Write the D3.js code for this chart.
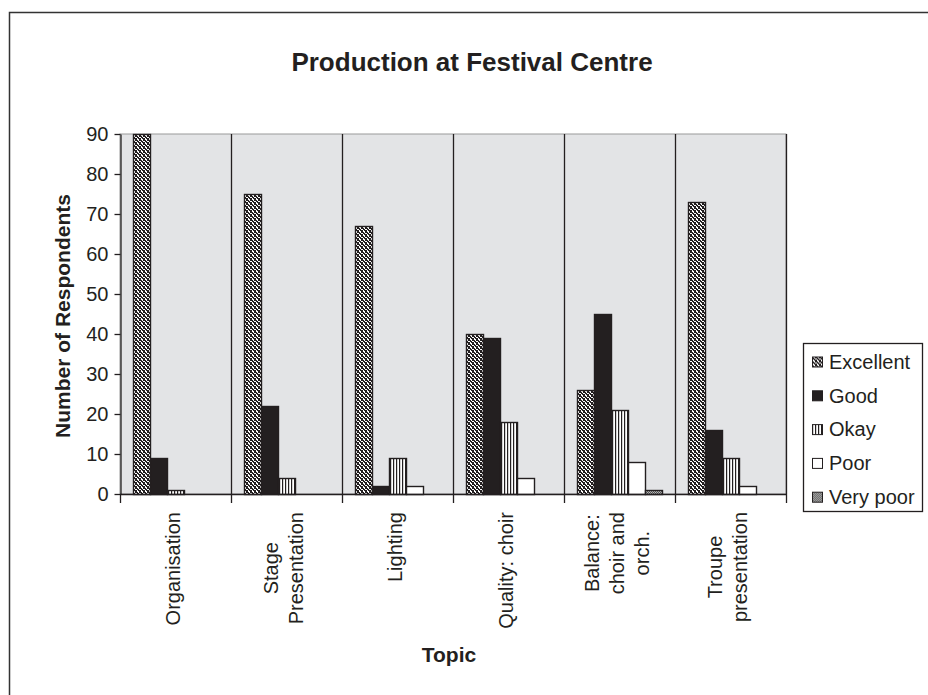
<!DOCTYPE html>
<html>
<head>
<meta charset="utf-8">
<script src="https://cdn.jsdelivr.net/npm/d3@7/dist/d3.min.js"></script>
<style>
  html, body { margin: 0; padding: 0; background: #fff; }
  svg { display: block; font-family: "Liberation Sans", Arial, sans-serif; }
</style>
</head>
<body>
<svg id="chart" width="928" height="695"></svg>
<script>
// Survey responses per production topic
const categories = ["Organisation", "Stage\nPresentation", "Lighting", "Quality: choir", "Balance:\nchoir and\norch.", "Troupe\npresentation"];
const seriesNames = ["Excellent", "Good", "Okay", "Poor", "Very poor"];
const excellent = [90, 75, 67, 40, 26, 73];
const good      = [9, 22, 2, 39, 45, 16];
const okay      = [1, 4, 9, 18, 21, 9];
const poor      = [0, 0, 2, 4, 8, 2];
const veryPoor  = [0, 0, 0, 0, 1, 0];
const yTicks = [0, 10, 20, 30, 40, 50, 60, 70, 80, 90];

const seriesValues = [excellent, good, okay, poor, veryPoor];

const svg = d3.select("#chart");
const W = 928, H = 695;
const plot = { left: 120, right: 786, top: 134, bottom: 494 };
const ink = "#231f20";

// Fill patterns
const defs = svg.append("defs");
const pExc = defs.append("pattern").attr("id", "p-exc").attr("patternUnits", "userSpaceOnUse")
  .attr("width", 4).attr("height", 4);
pExc.append("rect").attr("width", 4).attr("height", 4).attr("fill", "#fff");
// zigzag texture
[[0,0],[1,0],[3,0],[1,1],[2,1],[2,2],[3,2],[0,2],[3,3],[0,3]].forEach(([px, py]) =>
  pExc.append("rect").attr("x", px).attr("y", py).attr("width", 1).attr("height", 1).attr("fill", ink));

const pOkay = defs.append("pattern").attr("id", "p-okay").attr("patternUnits", "userSpaceOnUse")
  .attr("width", 3).attr("height", 3);
pOkay.append("rect").attr("width", 3).attr("height", 3).attr("fill", "#fff");
pOkay.append("rect").attr("x", 0).attr("width", 1.2).attr("height", 3).attr("fill", ink);

const pVp = defs.append("pattern").attr("id", "p-vp").attr("patternUnits", "userSpaceOnUse")
  .attr("width", 2).attr("height", 2);
pVp.append("rect").attr("width", 2).attr("height", 2).attr("fill", "#b8b8b8");
pVp.append("rect").attr("width", 1).attr("height", 1).attr("fill", "#555");
pVp.append("rect").attr("x", 1).attr("y", 1).attr("width", 1).attr("height", 1).attr("fill", "#555");

const fills = ["url(#p-exc)", ink, "url(#p-okay)", "#ffffff", "url(#p-vp)"];

// Outer chart frame
svg.append("rect").attr("x", 9.5).attr("y", 12.5).attr("width", W + 20).attr("height", H + 20)
  .attr("fill", "#fff").attr("stroke", "#333").attr("stroke-width", 1.5);

// Scales
const x = d3.scaleBand().domain(d3.range(categories.length)).range([plot.left, plot.right]).padding(0);
const gap = 26;
const xs = d3.scaleBand().domain(d3.range(seriesNames.length)).range([gap / 2, x.bandwidth() - gap / 2]).padding(0);
const y = d3.scaleLinear().domain([0, 90]).range([plot.bottom, plot.top]);

// Plot background
svg.append("rect").attr("x", plot.left).attr("y", plot.top)
  .attr("width", plot.right - plot.left).attr("height", plot.bottom - plot.top)
  .attr("fill", "#e3e4e6").attr("stroke", "#999").attr("stroke-width", 1);

// Category dividers
svg.append("g").selectAll("line").data(d3.range(1, categories.length + 1)).join("line")
  .attr("x1", i => x(i - 1) + x.bandwidth() + 0.5).attr("x2", i => x(i - 1) + x.bandwidth() + 0.5)
  .attr("y1", plot.top).attr("y2", plot.bottom)
  .attr("stroke", ink).attr("stroke-width", 1.3);

// Bars
const groups = svg.append("g").selectAll("g").data(categories).join("g")
  .attr("transform", (d, i) => `translate(${x(i)},0)`);
groups.selectAll("rect")
  .data((d, i) => seriesValues.map((vals, s) => ({ s, v: vals[i] })).filter(d => d.v > 0))
  .join("rect")
  .attr("x", d => xs(d.s) + 0.5)
  .attr("y", d => y(d.v) + 0.5)
  .attr("width", xs.bandwidth())
  .attr("height", d => y(0) - y(d.v))
  .attr("fill", d => fills[d.s])
  .attr("stroke", ink).attr("stroke-width", 1.4);

// Y axis
const yAxis = svg.append("g").attr("transform", `translate(${plot.left + 0.5},0)`)
  .call(d3.axisLeft(y).tickValues(yTicks).tickSize(6).tickSizeOuter(0).tickPadding(6));
yAxis.select(".domain").attr("stroke", ink).attr("stroke-width", 1.3);
yAxis.selectAll(".tick line").attr("stroke", ink).attr("stroke-width", 1.3);
yAxis.selectAll(".tick text").attr("font-size", 20).attr("fill", ink)
  .attr("font-family", "Liberation Sans, Arial, sans-serif");

// X axis line and boundary ticks
svg.append("line").attr("x1", plot.left).attr("x2", plot.right + 1)
  .attr("y1", plot.bottom + 0.5).attr("y2", plot.bottom + 0.5)
  .attr("stroke", ink).attr("stroke-width", 1.3);
svg.append("g").selectAll("line").data(d3.range(categories.length + 1)).join("line")
  .attr("x1", i => (i < categories.length ? x(i) : x(i - 1) + x.bandwidth()) + 0.5)
  .attr("x2", i => (i < categories.length ? x(i) : x(i - 1) + x.bandwidth()) + 0.5)
  .attr("y1", plot.bottom).attr("y2", plot.bottom + 9)
  .attr("stroke", ink).attr("stroke-width", 1.3);

// Rotated category labels, centred lines
const labelTop = 512, lineGap = 25;
categories.forEach((c, i) => {
  const lines = c.split("\n");
  const cx = x(i) + x.bandwidth() / 2 - 3;
  const g = svg.append("g").attr("transform", `translate(${cx},0) rotate(-90)`);
  const texts = lines.map((ln, k) => g.append("text")
    .attr("y", (k - (lines.length - 1) / 2) * lineGap)
    .attr("dy", "0.35em")
    .attr("text-anchor", "middle")
    .attr("font-size", 20).attr("fill", ink).text(ln));
  const maxLen = d3.max(texts, t => t.node().getComputedTextLength());
  texts.forEach(t => t.attr("x", -(labelTop + maxLen / 2)));
});

// Titles
svg.append("text").attr("x", 472).attr("y", 71).attr("text-anchor", "middle")
  .attr("font-size", 26).attr("font-weight", "bold").attr("fill", ink)
  .text("Production at Festival Centre");
svg.append("text").attr("x", 449).attr("y", 662).attr("text-anchor", "middle")
  .attr("font-size", 21).attr("font-weight", "bold").attr("fill", ink).text("Topic");
svg.append("text").attr("transform", `translate(70,${(plot.top + plot.bottom) / 2 + 2}) rotate(-90)`)
  .attr("text-anchor", "middle").attr("font-size", 21).attr("font-weight", "bold")
  .attr("fill", ink).text("Number of Respondents");

// Legend
const legend = svg.append("g");
legend.append("rect").attr("x", 803.5).attr("y", 343.5).attr("width", 119).attr("height", 168)
  .attr("fill", "#fff").attr("stroke", ink).attr("stroke-width", 1.3);
const items = legend.selectAll("g.item").data(seriesNames).join("g").attr("class", "item")
  .attr("transform", (d, i) => `translate(812,${361.5 + i * 33.8})`);
items.append("rect").attr("x", 0.5).attr("y", -4.5).attr("width", 10).attr("height", 10)
  .attr("fill", (d, i) => fills[i]).attr("stroke", ink).attr("stroke-width", 1);
items.append("text").attr("x", 17).attr("y", 0).attr("dy", "0.36em")
  .attr("font-size", 20).attr("fill", ink).text(d => d);
</script>
</body>
</html>
